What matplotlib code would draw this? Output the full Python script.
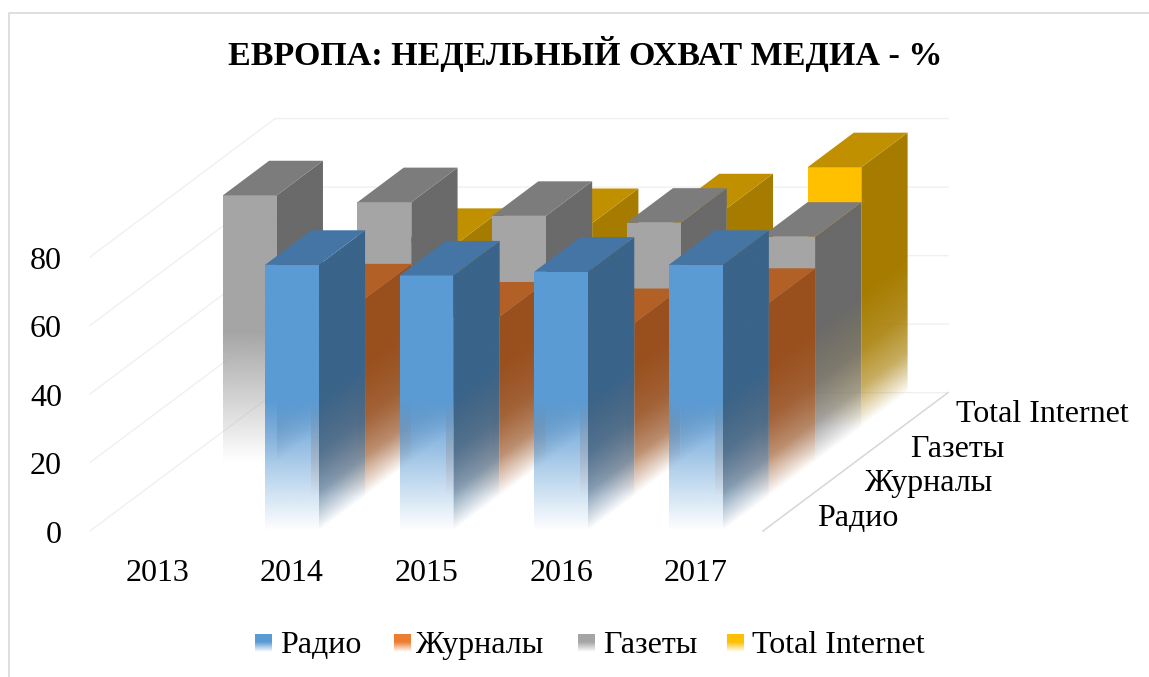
import numpy as np
import matplotlib.pyplot as plt
from matplotlib.colors import to_rgb
from matplotlib.lines import Line2D
from matplotlib.patches import Polygon

plt.rcParams['font.family'] = ['Liberation Serif', 'DejaVu Serif']

# data
years = ['2013', '2014', '2015', '2016', '2017']
series_names = ['Радио', 'Журналы', 'Газеты', 'Total Internet']
radio = [np.nan, 77.7, 74.6, 75.7, 77.7]
magazines = [np.nan, 57.8, 52.5, 50.6, 56.5]
newspapers = [77.8, 75.8, 71.8, 69.8, 65.7]
internet = [np.nan, 53.8, 59.6, 63.9, 75.9]
all_series = [radio, magazines, newspapers, internet]
y_ticks = [0, 20, 40, 60, 80]

# front, side, top colours per series
face_colors = [('#5b9bd5', '#3a648a', '#4475a5'),
               ('#ed7d31', '#9a501e', '#b26025'),
               ('#a5a5a5', '#6a6a6a', '#7c7c7c'),
               ('#ffc000', '#a67c00', '#c09000')]

# oblique projection: one series step in depth, in category / value units
DX = 0.3436
DY = 10.1
BAR_W = 0.4
BAR_D = 1.0
FADE = 38.0  # value below which the bars fade out
FONT = 23


def project(cat, depth, val):
    return cat + depth * DX, val + depth * DY


def draw_face(ax, corners, color, depth_of_x=None, s=0):
    # corners in data coords; alpha computed from the value in 3d, pixel by pixel
    xs = [c[0] for c in corners]
    ys = [c[1] for c in corners]
    x0, x1, y0, y1 = min(xs), max(xs), min(ys), max(ys)
    gx, gy = np.meshgrid(np.linspace(x0, x1, 120), np.linspace(y0, y1, 500))
    if depth_of_x is None:
        v = gy - s * DY
        alpha = np.clip(v / FADE, 0, 1)
    else:
        # the side faces stay dark for longer, but still end softly
        v = gy - (s + (gx - x0) / DX) * DY
        alpha = np.interp(v / FADE, [0, 0.1, 0.3, 0.6, 1], [0, 0.22, 0.62, 0.87, 1])
    img = np.zeros(gx.shape + (4,))
    img[..., :3] = to_rgb(color)
    img[..., 3] = alpha
    im = ax.imshow(img, extent=(x0, x1, y0, y1), origin='lower', aspect='auto',
                   interpolation='bilinear', zorder=3)
    im.set_clip_path(Polygon(corners, transform=ax.transData))


def draw_bar(ax, cat, s, val, colors):
    l, r = cat - BAR_W / 2, cat + BAR_W / 2
    b = s + BAR_D
    front = [project(l, s, 0), project(r, s, 0), project(r, s, val), project(l, s, val)]
    side = [project(r, s, 0), project(r, b, 0), project(r, b, val), project(r, s, val)]
    top = [project(l, s, val), project(r, s, val), project(r, b, val), project(l, b, val)]
    draw_face(ax, side, colors[1], depth_of_x=True, s=s)
    draw_face(ax, front, colors[0], s=s)
    ax.add_patch(Polygon(top, facecolor=colors[2], edgecolor='none', zorder=3))


fig = plt.figure(figsize=(11.49, 6.77), dpi=100)
ax = fig.add_axes([0, 0, 1, 1])
ax.axis('off')

# walls and floor
n_cat = len(years)
n_ser = len(series_names)
left, right = -0.5, n_cat - 0.5
grid_col = '#f0f0f0'
for t in y_ticks:
    p0 = project(left, 0, t)
    p1 = project(left, n_ser, t)
    p2 = project(right, n_ser, t)
    ax.plot([p0[0], p1[0], p2[0]], [p0[1], p1[1], p2[1]], color=grid_col, lw=1, zorder=1)
    ax.text(-0.708, t - 1.2, str(t), ha='right', va='center', fontsize=FONT, color='black')
p0 = project(right, 0, 0)
p1 = project(right, n_ser, 0)
ax.plot([p0[0], p1[0]], [p0[1], p1[1]], color='#d9d9d9', lw=1.2, zorder=1)

# bars, back row first
for s in range(n_ser - 1, -1, -1):
    for i in range(n_cat):
        if not np.isnan(all_series[s][i]):
            draw_bar(ax, i, s, all_series[s][i], face_colors[s])

for i, y in enumerate(years):
    ax.text(i, -12.3, y, ha='center', va='center', fontsize=FONT, color='black')
for s, name in enumerate(series_names):
    px, py = project(4.905, s, 1.55)
    ax.text(px, py, name, ha='left', va='baseline', fontsize=FONT, color='black')

ax.set_xlim(-157.3 / 134.6, (1149 - 157.3) / 134.6)
ax.set_ylim(-146 / 3.425, 531 / 3.425)

fig.text(585 / 1149, 1 - 54 / 677, 'ЕВРОПА: НЕДЕЛЬНЫЙ ОХВАТ МЕДИА - %', ha='center', va='center',
         fontsize=24.5, fontweight='bold', color='black')

# legend: small squares with the same fade
swatch_x = [255, 394, 578, 727]
text_x = [280, 415, 603, 752]
for k, name in enumerate(series_names):
    sw = fig.add_axes([swatch_x[k] / 1149, 1 - 652 / 677, 17 / 1149, 18 / 677])
    sw.axis('off')
    grad = np.zeros((40, 1, 4))
    grad[..., :3] = to_rgb(face_colors[k][0])
    grad[..., 3] = np.clip(np.linspace(0, 1.8, 40), 0, 1)[:, None]
    sw.imshow(grad, origin='lower', aspect='auto', interpolation='bilinear')
    fig.text(text_x[k] / 1149, 1 - 653 / 677, name, ha='left', va='baseline', fontsize=FONT, color='black')

# chart frame
fig.add_artist(Line2D([9 / 1149, 9 / 1149, 1], [0, 1 - 12.5 / 677, 1 - 12.5 / 677], color='#d9d9d9', lw=1.2))

plt.savefig('out.png', dpi=100, facecolor='white')
